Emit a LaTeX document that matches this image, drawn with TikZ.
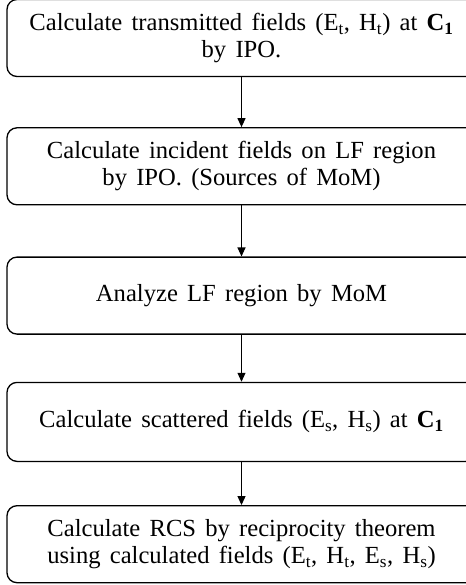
\documentclass[tikz,border=0pt]{standalone}
\usepackage{fontspec}
\setmainfont{Liberation Serif}[WordSpace=1.5]
\usetikzlibrary{arrows.meta,positioning}
\newcommand{\sub}[1]{\textsubscript{#1}}

\begin{document}
\begin{tikzpicture}[x=1pt, y=1pt,
  font=\fontsize{24.6}{27}\selectfont,
  box/.style={draw=black, rounded corners=10pt, align=center, line width=1.3pt,
              minimum width=469pt, minimum height=77pt, inner sep=0pt},
  arr/.style={-{Triangle[length=9pt, width=8pt]}, line width=1.1pt}]
\useasboundingbox (0,0) rectangle (465,-585);
\node[box] (trans) at (241.5,-38) {Calculate transmitted fields (E\sub{t}, H\sub{t}) at \textbf{C\sub{1}}\\by IPO.};
\node[box, below=50pt of trans] (inc) {Calculate incident fields on LF region\\by IPO. (Sources of MoM)};
\node[box, below=51pt of inc] (mom) {Analyze LF region by MoM};
\node[box, below=47pt of mom, minimum height=79pt] (scat) {Calculate scattered fields (E\sub{s}, H\sub{s}) at \textbf{C\sub{1}}};
\node[box, below=43pt of scat] (rcs) {Calculate RCS by reciprocity theorem\\using calculated fields (E\sub{t}, H\sub{t}, E\sub{s}, H\sub{s})};
\draw[arr] (trans)--(inc); \draw[arr] (inc)--(mom); \draw[arr] (mom)--(scat); \draw[arr] (scat)--(rcs);
\end{tikzpicture}
\end{document}
